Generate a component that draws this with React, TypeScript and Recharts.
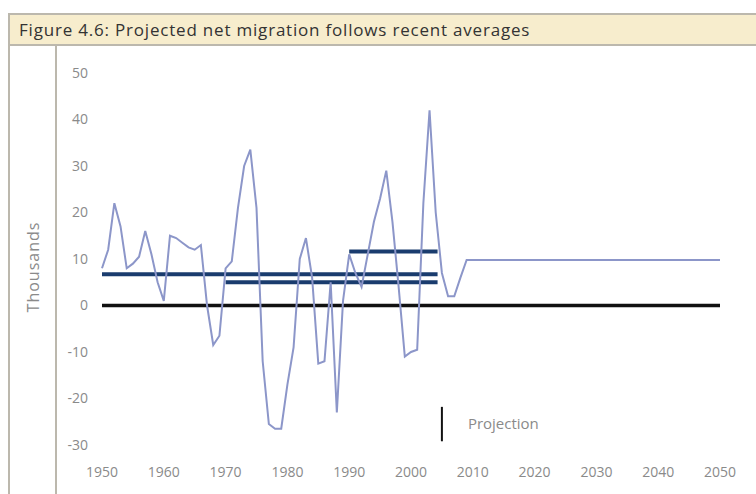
import React from 'react';
import { LineChart, Line, XAxis, YAxis, ReferenceLine } from 'recharts';

// net migration, thousands
const histYears = [
  1950, 1951, 1952, 1953, 1954, 1955, 1956, 1957, 1958, 1959,
  1960, 1961, 1962, 1963, 1964, 1965, 1966, 1967, 1968, 1969,
  1970, 1971, 1972, 1973, 1974, 1975, 1976, 1977, 1978, 1979,
  1980, 1981, 1982, 1983, 1984, 1985, 1986, 1987, 1988, 1989,
  1990, 1991, 1992, 1993, 1994, 1995, 1996, 1997, 1998, 1999,
  2000, 2001, 2002, 2003, 2004, 2005, 2006, 2007, 2008, 2009,
];
const histValues = [
  8, 12, 22, 17, 8, 9, 10.5, 16, 11, 5,
  1, 15, 14.5, 13.5, 12.5, 12, 13, 0, -8.5, -6.5,
  8, 9.5, 21, 30, 33.5, 21, -12, -25.5, -26.5, -26.5,
  -17, -9, 10, 14.5, 6, -12.5, -12, 5, -23, 1,
  11, 7, 4, 11, 18, 23, 29, 18, 4, -11,
  -10, -9.5, 22, 42, 20, 7, 2, 2, 6, 9.8,
];
const projYears = [2020, 2030, 2040, 2050];
const projValues = [9.8, 9.8, 9.8, 9.8];

// recent averages: [from, to, value]
const averages: [number, number, number][] = [
  [1950, 2004.3, 6.7],
  [1970, 2004.3, 5.0],
  [1990, 2004.3, 11.6],
];

const xTicks = [1950, 1960, 1970, 1980, 1990, 2000, 2010, 2020, 2030, 2040, 2050];
const yTicks = [-30, -20, -10, 0, 10, 20, 30, 40, 50];
const projectionYear = 2005;
const projectionMark = [-21.8, -29.2];

const data = [
  ...histYears.map((year, i) => ({ year, value: histValues[i] })),
  ...projYears.map((year, i) => ({ year, value: projValues[i] })),
];

const tickStyle = { fontFamily: 'Open Sans', fontSize: 14, fill: '#8a8a8a' };

export default function App() {
  return (
    <div
      style={{
        position: 'absolute',
        left: 0,
        top: 0,
        width: 756,
        height: 494,
        background: '#fff',
        overflow: 'hidden',
      }}
    >
      <div
        style={{
          position: 'absolute',
          left: 8,
          top: 13,
          width: 760,
          height: 29,
          background: '#f7edcd',
          borderTop: '2px solid #bcb8ad',
          borderBottom: '2px solid #bcb8ad',
          borderLeft: '2px solid #bcb8ad',
        }}
      />
      <div
        style={{
          position: 'absolute',
          left: 19,
          top: 18,
          fontFamily: 'Open Sans',
          fontSize: 17,
          letterSpacing: 0.8,
          color: '#333',
          whiteSpace: 'nowrap',
        }}
      >
        Figure 4.6: Projected net migration follows recent averages
      </div>
      <div style={{ position: 'absolute', left: 8, top: 46, width: 2, height: 448, background: '#bcb8ad' }} />
      <div style={{ position: 'absolute', left: 55, top: 46, width: 2, height: 448, background: '#bcb8ad' }} />
      <div
        style={{
          position: 'absolute',
          left: 33,
          top: 267,
          transform: 'translate(-50%, -50%) rotate(-90deg)',
          fontFamily: 'Open Sans',
          fontSize: 16,
          letterSpacing: 1,
          color: '#8a8a8a',
          whiteSpace: 'nowrap',
        }}
      >
        Thousands
      </div>
      <div style={{ position: 'absolute', left: 0, top: 0 }}>
        <LineChart width={756} height={494} data={data} margin={{ top: 73, right: 36, bottom: 19, left: 62 }}>
          <XAxis
            dataKey="year"
            type="number"
            domain={[1950, 2050]}
            ticks={xTicks}
            axisLine={false}
            tickLine={false}
            tick={tickStyle}
            tickMargin={16}
            interval={0}
          />
          <YAxis
            type="number"
            domain={[-30, 50]}
            ticks={yTicks}
            axisLine={false}
            tickLine={false}
            tick={tickStyle}
            tickMargin={8}
            width={40}
            interval={0}
          />
          <ReferenceLine y={0} stroke="#111" strokeWidth={3.5} />
          {averages.map(([from, to, v]) => (
            <ReferenceLine
              key={from}
              segment={[
                { x: from, y: v },
                { x: to, y: v },
              ]}
              stroke="#1a3c6e"
              strokeWidth={4}
            />
          ))}
          <ReferenceLine
            segment={[
              { x: projectionYear, y: projectionMark[0] },
              { x: projectionYear, y: projectionMark[1] },
            ]}
            stroke="#111"
            strokeWidth={2}
            label={{
              value: 'Projection',
              position: 'right',
              offset: 26,
              fill: '#8a8a8a',
              fontFamily: 'Open Sans',
              fontSize: 15,
            }}
          />
          <Line
            type="linear"
            dataKey="value"
            stroke="#8c96c9"
            strokeWidth={2}
            dot={false}
            isAnimationActive={false}
          />
        </LineChart>
      </div>
    </div>
  );
}
